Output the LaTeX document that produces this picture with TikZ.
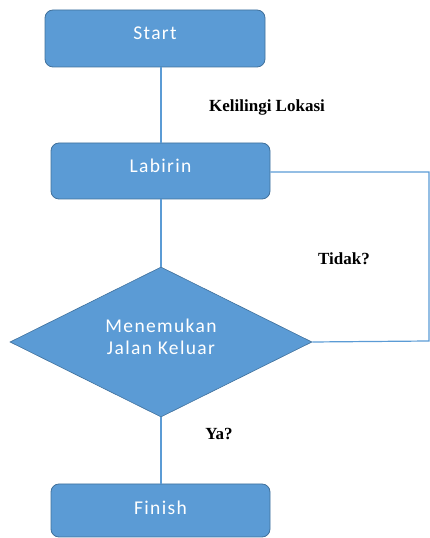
\documentclass[tikz,border=0pt]{standalone}
\usepackage{fontspec}
\setmainfont{Liberation Serif}
\newfontfamily\boxfont[LetterSpace=7]{Carlito}
\usetikzlibrary{shapes.geometric}
\definecolor{boxfill}{HTML}{5B9BD5}
\definecolor{boxline}{HTML}{41719C}
\definecolor{conn}{HTML}{5B9BD5}
\tikzset{
  box/.style={draw=boxline, line width=0.8pt, fill=boxfill, rounded corners=8pt, inner sep=0pt},
  dia/.style={draw=boxline, line width=0.6pt, fill=boxfill, diamond, aspect=2, inner sep=0pt, minimum width=302pt, minimum height=150pt},
  boxtxt/.style={text=white, font=\boxfont\fontsize{19.5}{22.5}\selectfont, align=center, inner sep=0pt},
  lbl/.style={font=\bfseries\fontsize{17}{20}\selectfont, inner sep=0pt},
  conline/.style={draw=conn, line width=1.2pt}
}
\begin{document}
\begin{tikzpicture}[x=1pt,y=1pt]
\useasboundingbox (0,0) rectangle (430,538);
\node[box, minimum width=220pt, minimum height=57pt] (start) at (155,499.5) {};
\node[boxtxt] (starttxt) at ([yshift=5pt]start.center) {Start};
\node[box, minimum width=219pt, minimum height=56pt] (lab) at (160.5,367) {};
\node[boxtxt] (labtxt) at ([yshift=5pt]lab.center) {Labirin};
\node[dia] (dec) at (161,196) {};
\node[boxtxt] (dectxt) at ([yshift=5pt]dec.center) {Menemukan\\Jalan Keluar};
\node[box, minimum width=219pt, minimum height=53pt] (fin) at (160.5,27.5) {};
\node[boxtxt] (fintxt) at ([yshift=3pt]fin.center) {Finish};
\coordinate (c1) at (429,366);
\coordinate (c2) at (429,197);
\draw[conline] (dec.north |- start.south) -- (dec.north |- lab.north);
\draw[conline] (dec.north |- lab.south) -- (dec.north);
\draw[conline] (dec.south) -- (dec.south |- fin.north);
\draw[conline] (lab.east |- c1) -- (c1) -- (c2) -- (dec.east);
\node[lbl] (l1) at (267,431) {Kelilingi Lokasi};
\node[lbl] (l2) at (344,279) {Tidak?};
\node[lbl] (l3) at (219,104) {Ya?};
\end{tikzpicture}
\end{document}
